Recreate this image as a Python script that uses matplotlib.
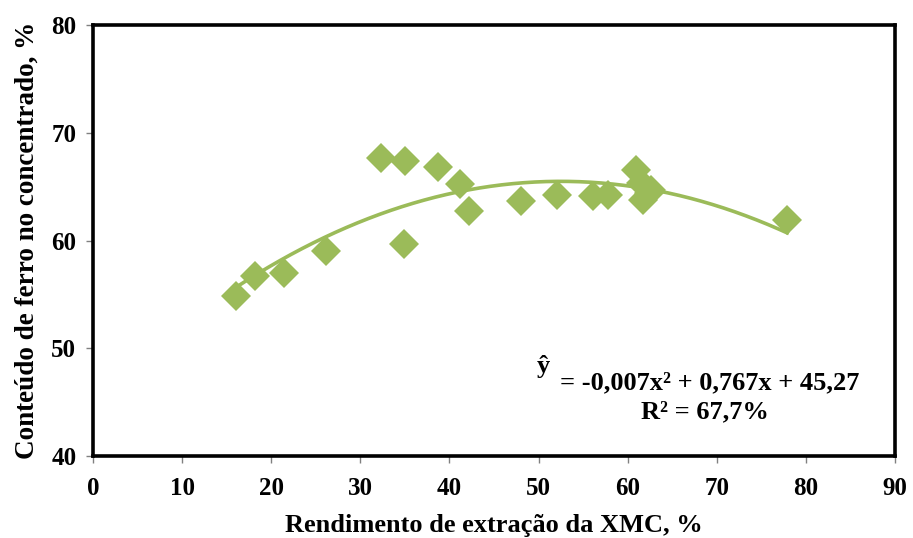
import numpy as np
import matplotlib
matplotlib.use("Agg")
import matplotlib.pyplot as plt

x_vals = [16.0, 18.2, 21.4, 26.2, 32.3, 35.0, 34.9, 38.7, 41.2, 42.2, 48.0, 52.1,
          56.1, 57.8, 60.9, 61.5, 62.4, 61.7, 62.6, 77.9]
y_vals = [54.85, 56.7, 56.98, 59.0, 67.66, 67.4, 59.7, 66.8, 65.2, 62.7, 63.7, 64.2,
          64.1, 64.2, 66.5, 65.3, 64.4, 63.8, 64.7, 61.9]
x_ticks = [0, 10, 20, 30, 40, 50, 60, 70, 80, 90]
y_ticks = [40, 50, 60, 70, 80]
eq_text = "= -0,007x² + 0,767x + 45,27"
r2_text = "R² = 67,7%"
x_label = "Rendimento de extração da XMC, %"
y_label = "Conteúdo de ferro no concentrado, %"

green = "#9BBB59"
plt.rcParams['font.family'] = ['Liberation Serif', 'DejaVu Serif']
plt.rcParams['font.weight'] = 'bold'

fig = plt.figure(figsize=(9.13, 5.38), dpi=100)
ax = fig.add_axes([0.1019, 0.1524, 0.8784, 0.8011])

coef = np.polyfit(x_vals, y_vals, 2)
xs = np.linspace(min(x_vals), max(x_vals), 200)
ax.plot(xs, np.polyval(coef, xs), color=green, lw=2.6, zorder=2)
ax.plot(x_vals, y_vals, linestyle='none', marker='D', ms=15, color=green,
        markeredgewidth=0, zorder=3)

ax.set_xlim(0, 90)
ax.set_ylim(40, 80)
ax.set_xticks(x_ticks)
ax.set_yticks(y_ticks)
ax.tick_params(axis='both', direction='out', length=5, width=1, color='#808080',
               labelsize=18)
ax.tick_params(axis='x', pad=10)
ax.tick_params(axis='y', pad=7)
for lab in ax.get_xticklabels() + ax.get_yticklabels():
    lab.set_fontweight('bold')
for s in ax.spines.values():
    s.set_linewidth(2.6)
    s.set_color('black')

ax.set_xlabel(x_label, fontsize=19, fontweight='bold', labelpad=10)
ax.set_ylabel(y_label, fontsize=19.5, fontweight='bold', labelpad=8)

fig.text(0.595, 0.318, "ŷ", fontsize=19, fontweight='bold',
         ha='center', va='center')
fig.text(0.777, 0.288, eq_text, fontsize=19,
         fontweight='bold', ha='center', va='center')
fig.text(0.772, 0.234, r2_text, fontsize=19,
         fontweight='bold', ha='center', va='center')

fig.savefig("out.png", dpi=100)
